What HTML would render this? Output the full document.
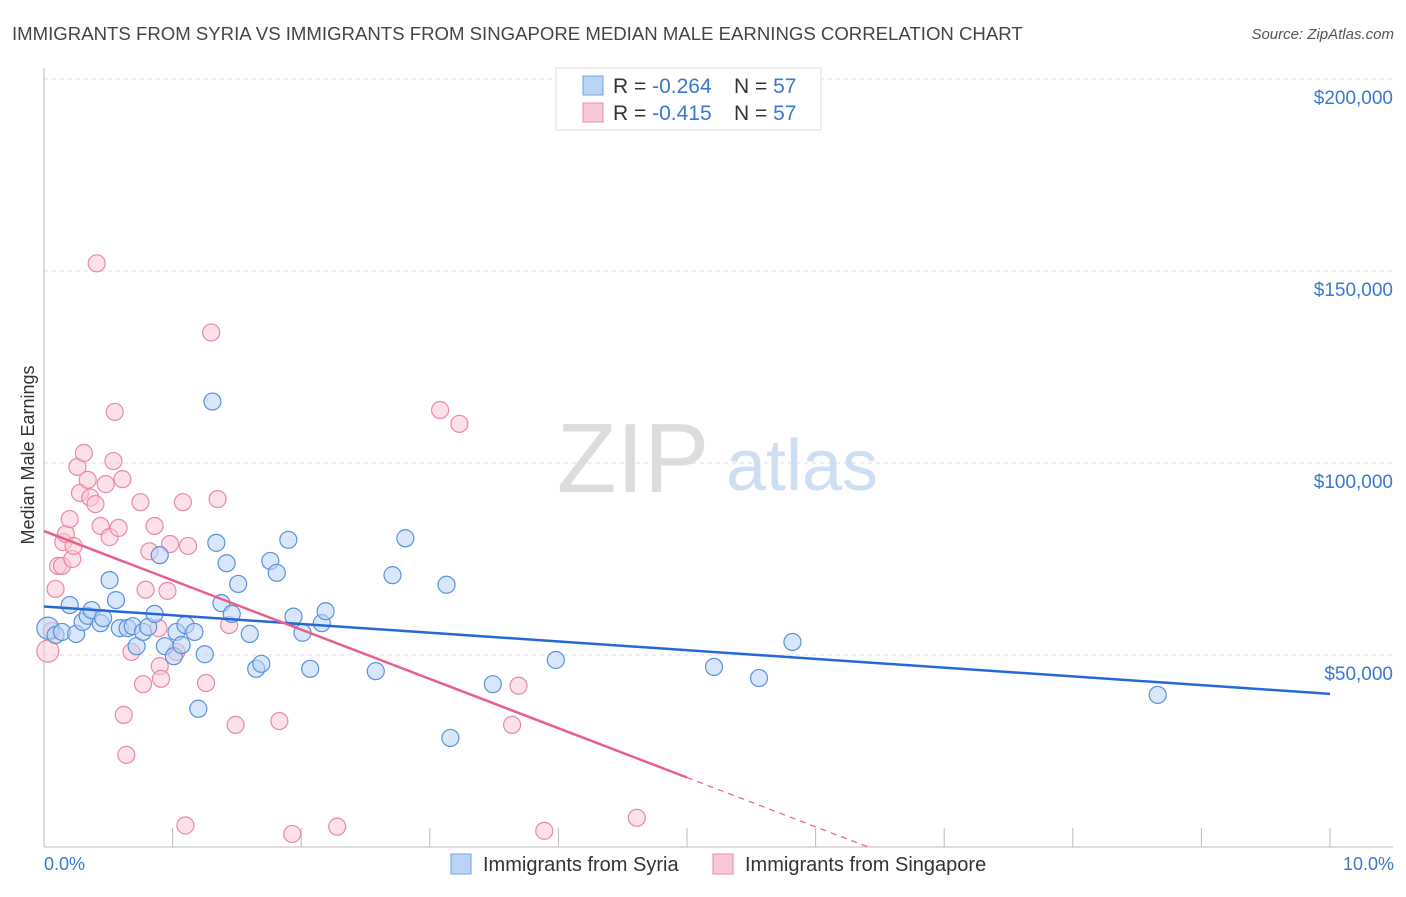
<!DOCTYPE html>
<html><head><meta charset="utf-8"><style>
body{margin:0;background:#fff;font-family:"Liberation Sans",sans-serif;}
svg text{font-family:"Liberation Sans",sans-serif;}
</style></head><body>
<svg id="chart" width="1406" height="892" xmlns="http://www.w3.org/2000/svg">
<text x="12" y="40" font-size="18.6" fill="#444">IMMIGRANTS FROM SYRIA VS IMMIGRANTS FROM SINGAPORE MEDIAN MALE EARNINGS CORRELATION CHART</text>
<text x="1394" y="39" font-size="15" fill="#555" text-anchor="end" font-style="italic">Source: ZipAtlas.com</text>
<text transform="translate(34,455) rotate(-90)" font-size="18" fill="#333" text-anchor="middle">Median Male Earnings</text>
<g><text x="633" y="492" font-size="98" fill="#ddd" font-family="Liberation Serif" text-anchor="middle">ZIP</text><text x="802" y="490" font-size="72" fill="#cfdff3" text-anchor="middle">atlas</text></g>
<g id="grid"></g><g id="axes"></g><g id="pts"></g><g id="lines"></g>
<g>
<rect x="556" y="68" width="265" height="62" fill="#fff" stroke="#ddd"/>
<rect x="583" y="76" width="20" height="19" fill="#b9d3f5" stroke="#6fa0e0"/>
<text x="613" y="93" font-size="21" fill="#333">R = <tspan fill="#3a78d0">-0.264</tspan></text>
<text x="734" y="93" font-size="21" fill="#333">N = <tspan fill="#3a78d0">57</tspan></text>
<rect x="583" y="103" width="20" height="19" fill="#f9c8d6" stroke="#e88aa6"/>
<text x="613" y="120" font-size="21" fill="#333">R =  <tspan fill="#3a78d0">-0.415</tspan></text>
<text x="734" y="120" font-size="21" fill="#333">N = <tspan fill="#3a78d0">57</tspan></text>
</g>
<g>
<rect x="451" y="854" width="20" height="20" fill="#b9d3f5" stroke="#6fa0e0"/>
<text x="483" y="871" font-size="20" fill="#333">Immigrants from Syria</text>
<rect x="713" y="854" width="20" height="20" fill="#f9c8d6" stroke="#e88aa6"/>
<text x="745" y="871" font-size="20" fill="#333">Immigrants from Singapore</text>
</g>
<text x="44" y="870" font-size="18" fill="#3a78d0">0.0%</text>
<text x="1394" y="870" font-size="18" fill="#3a78d0" text-anchor="end">10.0%</text>
</svg>
<script>
const yTicks=[50000,100000,150000,200000];
const yTickLabels=["$50,000","$100,000","$150,000","$200,000"];
const xTicks=[0,1,2,3,4,5,6,7,8,9,10];
const syriaX=[0.03,0.09,0.14,0.2,0.25,0.3,0.34,0.37,0.44,0.46,0.51,0.56,0.59,0.65,0.69,0.72,0.77,0.81,0.86,0.9,0.94,1.01,1.03,1.07,1.1,1.17,1.2,1.25,1.31,1.34,1.38,1.42,1.46,1.51,1.6,1.65,1.69,1.76,1.81,1.9,1.94,2.01,2.07,2.16,2.19,2.58,2.71,2.81,3.13,3.16,3.49,3.98,5.21,5.56,5.82,8.66];
const syriaY=[57000,55200,56000,63000,55500,58600,60200,61700,58300,59600,69500,64300,57000,57000,57500,52300,56000,57300,60700,76000,52300,49700,56000,52600,57800,56000,36000,50200,116000,79200,63500,73900,60700,68500,55500,46400,47700,74500,71400,80000,60000,55800,46400,58300,61400,45800,70800,80400,68300,28400,42400,48700,46900,44000,53400,39600];
const singX=[0.03,0.06,0.09,0.11,0.14,0.15,0.17,0.2,0.22,0.23,0.26,0.28,0.31,0.34,0.36,0.4,0.41,0.44,0.48,0.51,0.54,0.55,0.58,0.61,0.62,0.64,0.68,0.75,0.77,0.79,0.82,0.86,0.89,0.9,0.91,0.96,0.98,1.03,1.08,1.1,1.12,1.26,1.3,1.35,1.44,1.49,1.83,1.93,2.28,3.08,3.23,3.64,3.69,3.89,4.61];
const singY=[51000,56300,67200,73200,73200,79400,81500,85400,75000,78400,99000,92200,102600,95600,91000,89300,152000,83600,94500,80700,100500,113300,83100,95800,34400,24000,50800,89800,42400,67000,77000,83600,57000,47100,43800,66700,78900,50800,89800,5600,78400,42700,134000,90600,57800,31800,32800,3400,5300,113800,110200,31800,42000,4200,7600];
const W=n=>document.getElementById(n);
const ns="http://www.w3.org/2000/svg";
const X0=44,X1=1330,Y0=847,YPer=192/50000;
function sx(v){return X0+(X1-X0)*v/10;}
function sy(v){return Y0-v*YPer;}
function mk(tag,attrs,parent){const e=document.createElementNS(ns,tag);for(const k in attrs)e.setAttribute(k,attrs[k]);parent.appendChild(e);return e;}
yTicks.forEach((t,i)=>{
 const l=mk('line',{x1:44,x2:1393,y1:sy(t),y2:sy(t),stroke:'#ddd','stroke-dasharray':'4,4'},W('grid'));
 
 
 const tx=mk('text',{x:1393,y:sy(t)+25,'font-size':19,fill:'#3a78d0','text-anchor':'end'},W('axes'));
 tx.textContent=yTickLabels[i];
 
 
});
const ya=mk('line',{x1:44,x2:44,y1:68,y2:847,stroke:'#bbb'},W('axes'));


const xa=mk('line',{x1:44,x2:1393,y1:847,y2:847,stroke:'#bbb'},W('axes'));


xTicks.forEach(t=>{
 const l=mk('line',{x1:sx(t),x2:sx(t),y1:828,y2:847,stroke:'#bbb'},W('axes'));
 
 
});
function pts(xs,ys,fill,stroke,name){
 xs.forEach((x,i)=>{
  const c=mk('circle',{cx:sx(x),cy:sy(ys[i]),r:i==0?11:8.5,fill:fill,'fill-opacity':0.55,stroke:stroke,'stroke-width':1.2},W('pts'));
  
  
 });
}
pts(singX,singY,'#f9c8d6','#e88aa6','singapore-point');
pts(syriaX,syriaY,'#b9d3f5','#5a90dc','syria-point');
function fit(xs,ys){const n=xs.length;let mx=0,my=0;for(let i=0;i<n;i++){mx+=xs[i];my+=ys[i];}mx/=n;my/=n;let a=0,b=0;for(let i=0;i<n;i++){a+=(xs[i]-mx)*(ys[i]-my);b+=(xs[i]-mx)**2;}const s=a/b;return [s,my-s*mx];}
const [bs,bi]=fit(syriaX,syriaY);
const bl=mk('line',{x1:sx(0),y1:sy(bi),x2:sx(10),y2:sy(bi+bs*10),stroke:'#2468d8','stroke-width':2.5},W('lines'));


const [ps,pi]=fit(singX,singY);
const pl=mk('line',{x1:sx(0),y1:sy(pi),x2:sx(5),y2:sy(pi+ps*5),stroke:'#e8608a','stroke-width':2.5},W('lines'));


const xz=Math.min(10,-pi/ps);
const pd=mk('line',{x1:sx(5),y1:sy(pi+ps*5),x2:sx(xz),y2:sy(pi+ps*xz),stroke:'#e8608a','stroke-width':1.2,'stroke-dasharray':'6,5'},W('lines'));


</script>
</body></html>
